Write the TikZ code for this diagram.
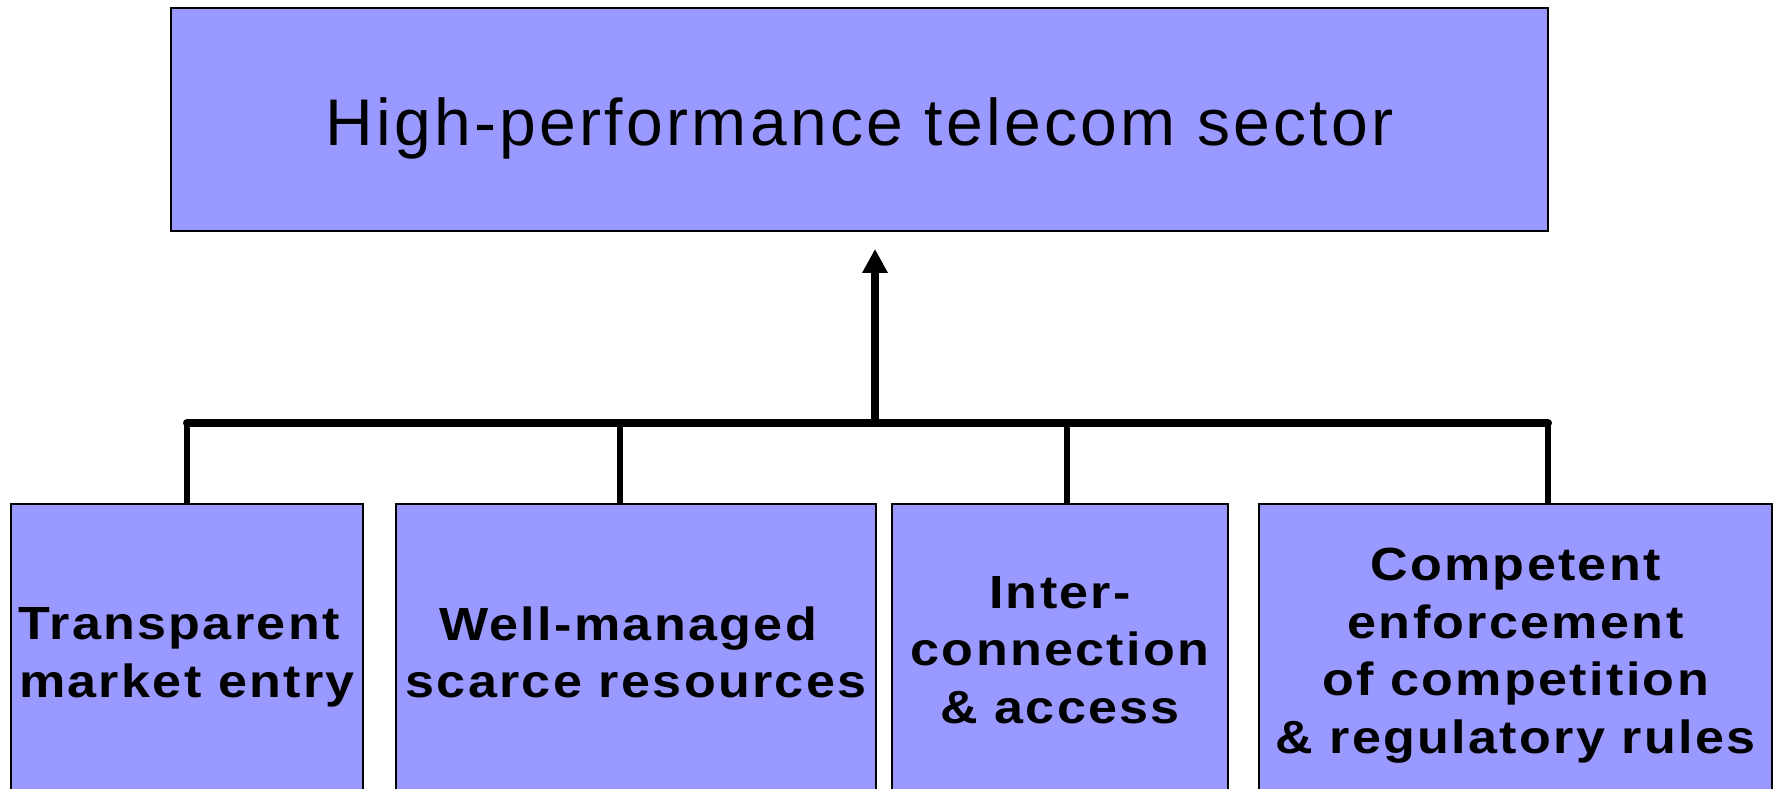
\documentclass[tikz,border=0pt]{standalone}
\usepackage{fontspec}
\setmainfont{Liberation Sans}
\newfontfamily\titlefont[LetterSpace=5]{Liberation Sans}
\newfontfamily\boxfont[LetterSpace=5,FakeStretch=1.12]{Liberation Sans}
\usetikzlibrary{arrows.meta}
\definecolor{boxfill}{RGB}{153,153,255}
\tikzset{
  box/.style={draw=black, fill=boxfill, line width=1.8pt, inner sep=0pt, align=center},
  topbox/.style={box, font=\titlefont\fontsize{66}{70}\selectfont},
  lowbox/.style={box, font=\boxfont\bfseries\fontsize{46.5}{57.5}\selectfont},
  bar/.style={line width=8pt, line cap=round},
  drop/.style={line width=6.5pt},
  uparrow/.style={line width=8pt, -{Triangle[width=24pt,length=24pt]}, shorten >=17pt}
}
\begin{document}
\begin{tikzpicture}[x=1pt,y=-1pt]
\clip (0,0) rectangle (1779,788);
\fill[white] (0,0) rectangle (1779,788);
\node[topbox, minimum width=1377pt, minimum height=223pt, text height=51pt, text depth=0pt] (top) at (859.5,119.5) {High-performance telecom sector};
\node[lowbox, minimum width=352pt, minimum height=307pt] (b1) at (187,657.5) {Transparent\kern16pt\\market entry};
\node[lowbox, minimum width=480pt, minimum height=297pt] (b2) at (636,652.5) {Well-managed\kern16pt\\scarce resources};
\node[lowbox, minimum width=336pt, minimum height=292pt] (b3) at (1060,650) {Inter-\\connection\\\&~access};
\node[lowbox, minimum width=513pt, minimum height=303pt] (b4) at (1515.5,655.5) {Competent\\enforcement\\of competition\\\&~regulatory rules};
\coordinate (j0) at (875,423);
\coordinate (c1) at (187,423);
\coordinate (c2) at (620,423);
\coordinate (c3) at (1067,423);
\coordinate (c4) at (1548,423);
\draw[drop] (c1) -- (b1.north -| c1);
\draw[drop] (c2) -- (b2.north -| c2);
\draw[drop] (c3) -- (b3.north -| c3);
\draw[drop] (c4) -- (b4.north -| c4);
\draw[bar] (c1) -- (c4);
\draw[uparrow] (j0) -- (j0 |- top.south);
\end{tikzpicture}
\end{document}
